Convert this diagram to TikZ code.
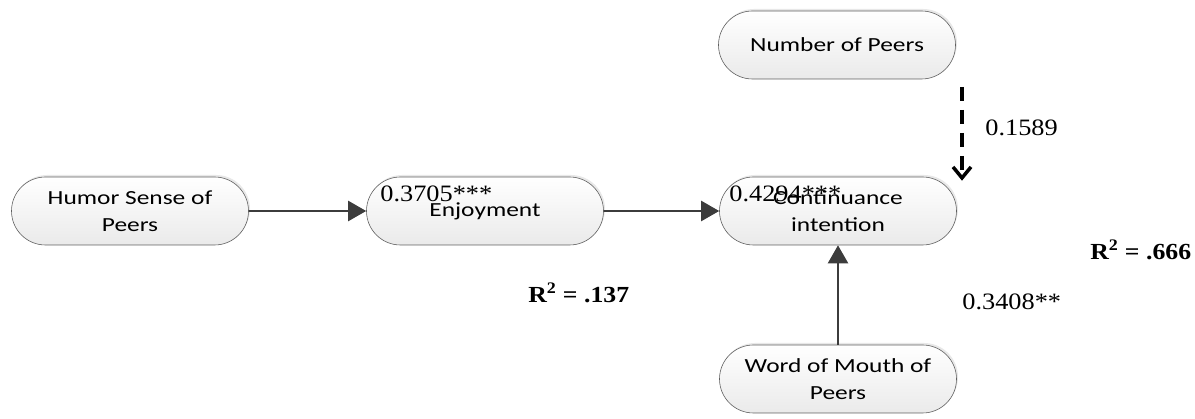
\documentclass[tikz,border=0pt]{standalone}
\usepackage{fontspec}
\setmainfont{Liberation Serif}[FakeStretch=1.12]
\newfontfamily\boxfont{Carlito}[FakeStretch=1.27]
\usetikzlibrary{arrows.meta,shadows}

\definecolor{pillline}{RGB}{95,95,95}
\definecolor{pillfill}{RGB}{234,234,234}
\definecolor{pathline}{RGB}{60,60,60}

\tikzset{every picture/.style={line width=0.75pt}}
\tikzset{
	construct/.style={draw=pillline, line width=0.6pt, rounded corners=34pt,
		minimum width=237pt, minimum height=68pt, inner sep=0pt,
		top color=white, bottom color=pillfill,
		drop shadow={shadow xshift=1.5pt, shadow yshift=2pt, opacity=0.18},
		align=center, font=\boxfont\fontsize{20}{27}\selectfont},
	effect/.style={draw=pathline, line width=2.2pt,
		-{Triangle[length=18pt,width=20pt]}},
	moderate/.style={draw=black, line width=4pt, dash pattern=on 14pt off 9pt,
		-{Straight Barb[length=11pt,width=18pt,line width=3.5pt]}},
	coef/.style={anchor=base west, inner sep=0pt, font=\fontsize{23.5}{26}\selectfont},
	rsq/.style={anchor=base west, inner sep=0pt, font=\bfseries\fontsize{23}{25}\selectfont}}

\begin{document}
\begin{tikzpicture}[x=1pt,y=1pt,yscale=-1,xscale=1]
	\useasboundingbox (0,0) rectangle (1195,419);

	%Shape: Pill [humor]
	\node [construct] (humor) at (130,211) {Humor Sense of\\Peers};
	%Shape: Pill [enjoy]
	\node [construct] (enjoy) at (485,211) {Enjoyment};
	%Shape: Pill [cont]
	\node [construct] (cont) at (838,211) {Continuance\\intention};
	%Shape: Pill [peers]
	\node [construct] (peers) at (837,45) {Number of Peers};
	%Shape: Pill [wom]
	\node [construct] (wom) at (838,379) {Word of Mouth of\\Peers};

	%Straight Lines
	\draw [effect] (humor) -- (enjoy);
	%Straight Lines
	\draw [effect] (enjoy) -- (cont);
	%Straight Lines
	\draw [effect] (wom) -- (cont);
	%Straight Lines (dashed)
	\coordinate (modtop) at (962,87);
	\draw [moderate] (modtop) -- ([yshift=4pt]modtop |- cont.north);

	% Text Node
	\node [coef] (c1) at (380,202) {0.3705***};
	% Text Node
	\node [coef] (c2) at (729,202) {0.4294***};
	% Text Node
	\node [coef] (c3) at (985,136) {0.1589};
	% Text Node
	\node [coef] (c4) at (962,310) {0.3408**};
	% Text Node
	\node [rsq] (r1) at (528,303) {R\textsuperscript{2} = .137};
	% Text Node
	\node [rsq] (r2) at (1090,260) {R\textsuperscript{2} = .666};

\end{tikzpicture}
\end{document}
